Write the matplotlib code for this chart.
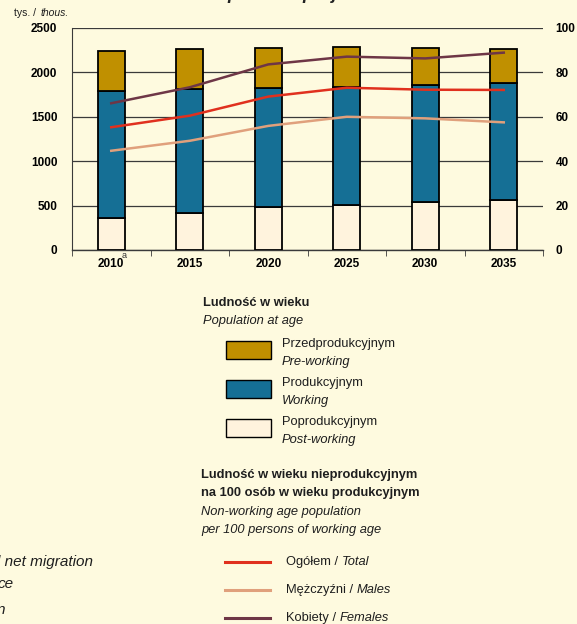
import matplotlib
matplotlib.use("Agg")
import matplotlib.pyplot as plt
from matplotlib.patches import Rectangle
from matplotlib.lines import Line2D

plt.rcParams['font.family'] = ['Liberation Sans Narrow', 'Liberation Sans', 'DejaVu Sans']

# data (thous. persons)
years = ["2010", "2015", "2020", "2025", "2030", "2035"]
post_working = [360, 417, 481, 510, 541, 567]
working = [1430, 1396, 1347, 1326, 1314, 1314]
pre_working = [451, 451, 451, 454, 420, 383]

# non-working age population per 100 persons of working age
ratio_total = [55.3, 60.5, 69.1, 73.1, 72.2, 72.1]
ratio_males = [44.7, 49.2, 55.9, 60.0, 59.3, 57.5]
ratio_females = [66.1, 73.3, 83.6, 87.1, 86.3, 88.9]

bg = "#FEFADF"
c_pre = "#C09000"
c_work = "#156F95"
c_post = "#FFF3DD"
c_total = "#E0301E"
c_males = "#E0A07C"
c_females = "#6E3646"
grid_c = "#3A3A3A"
tc = "#1E1E1E"

W, H = 577, 624
fig = plt.figure(figsize=(W / 100, H / 100), dpi=100, facecolor=bg)

def fx(px):
    return px / W

def fy(py):
    return 1 - py / H

ax = fig.add_axes([fx(72), fy(250), fx(543) - fx(72), fy(28) - fy(250)])
ax.set_facecolor(bg)
x = list(range(len(years)))

bottom2 = [a + b for a, b in zip(post_working, working)]
kw = dict(width=0.34, edgecolor="black", linewidth=1.3, zorder=3)
ax.bar(x, post_working, color=c_post, **kw)
ax.bar(x, working, bottom=post_working, color=c_work, **kw)
ax.bar(x, pre_working, bottom=bottom2, color=c_pre, **kw)

ax.set_xlim(-0.5, 5.5)
ax.set_ylim(0, 2500)
ax.set_yticks(range(0, 2501, 500))
ax.yaxis.grid(True, color=grid_c, linewidth=0.9, zorder=0)
ax.set_axisbelow(True)
ax.tick_params(axis="y", length=0, pad=10.5, labelsize=8.5)
for lab in ax.get_yticklabels():
    lab.set_fontweight("bold")
ax.set_xticks(x)
ax.set_xticklabels(years, fontweight="bold", fontsize=8.5)
ax.set_xticks([i - 0.5 for i in range(7)], minor=True)
ax.tick_params(axis="x", which="major", length=0, pad=6)
ax.tick_params(axis="x", which="minor", length=4, direction="out", color=grid_c)
for s in ["top", "right"]:
    ax.spines[s].set_visible(False)
ax.spines["left"].set_color(grid_c)
ax.spines["bottom"].set_color(grid_c)
ax.spines["bottom"].set_linewidth(1.0)

ax2 = ax.twinx()
ax2.set_ylim(0, 100)
ax2.set_yticks(range(0, 101, 20))
ax2.tick_params(axis="y", length=0, pad=9, labelsize=8.5)
for lab in ax2.get_yticklabels():
    lab.set_fontweight("bold")
for s in ax2.spines.values():
    s.set_visible(False)
ax2.plot(x, ratio_females, color=c_females, linewidth=1.8, zorder=4)
ax2.plot(x, ratio_total, color=c_total, linewidth=1.8, zorder=4)
ax2.plot(x, ratio_males, color=c_males, linewidth=1.8, zorder=4)

# superscript on first year
fig.text(fx(122), fy(258), "a", fontsize=6.5, color="#333333")

# axis unit
fig.text(fx(14), fy(13), "tys. /", fontsize=7.5, va="center", color=tc)
fig.text(fx(41), fy(13), "thous.", fontsize=7.5, style="italic", va="center", color=tc)

# title above the chart, cut off by the top edge
fig.text(fx(205), fy(-1), "Population projection", fontsize=13, fontweight="bold",
         style="italic", va="baseline", color="#222222", family="Liberation Sans")

# legend: bars
fs = 9.3
fig.text(fx(203), fy(303), "Ludność w wieku", fontsize=fs, fontweight="bold", va="center", color=tc)
fig.text(fx(203), fy(321), "Population at age", fontsize=fs, style="italic", va="center", color=tc)
bar_items = [(c_pre, "Przedprodukcyjnym", "Pre-working", 341),
             (c_work, "Produkcyjnym", "Working", 380),
             (c_post, "Poprodukcyjnym", "Post-working", 419)]
for col, pl, en, top in bar_items:
    fig.patches.append(Rectangle((fx(226), fy(top + 18)), fx(271) - fx(226), fy(top) - fy(top + 18),
                                 transform=fig.transFigure, facecolor=col, edgecolor="black",
                                 linewidth=1.0))
    fig.text(fx(282), fy(top + 3), pl, fontsize=fs, va="center", color=tc)
    fig.text(fx(282), fy(top + 21), en, fontsize=fs, style="italic", va="center", color=tc)

# legend: lines
fig.text(fx(201), fy(475), "Ludność w wieku nieprodukcyjnym", fontsize=fs, fontweight="bold", va="center", color=tc)
fig.text(fx(201), fy(493), "na 100 osób w wieku produkcyjnym", fontsize=fs, fontweight="bold", va="center", color=tc)
fig.text(fx(201), fy(512), "Non-working age population", fontsize=fs, style="italic", va="center", color=tc)
fig.text(fx(201), fy(530), "per 100 persons of working age", fontsize=fs, style="italic", va="center", color=tc)
line_items = [(c_total, "Ogółem / ", "Total", 562),
              (c_males, "Mężczyźni / ", "Males", 590),
              (c_females, "Kobiety / ", "Females", 618)]
for col, pl, en, yy in line_items:
    fig.lines.append(Line2D([fx(225), fx(270)], [fy(yy), fy(yy)], transform=fig.transFigure,
                            color=col, linewidth=2.2))
    t = fig.text(fx(286), fy(yy), pl, fontsize=fs, va="center", color=tc)
    fig.canvas.draw()
    x1 = t.get_window_extent().x1
    fig.text(fx(x1), fy(yy), en, fontsize=fs, style="italic", va="center", color=tc)

# fragments of neighbouring text cut at the left edge
fig.text(fx(-3), fy(562), "l net migration", fontsize=11, style="italic", va="center", color=tc)
fig.text(fx(-2), fy(584), "ce", fontsize=11, style="italic", va="center", color=tc)
fig.text(fx(-3), fy(610), "n", fontsize=11, style="italic", va="center", color=tc)

fig.savefig("out.png", dpi=100, facecolor=bg)
